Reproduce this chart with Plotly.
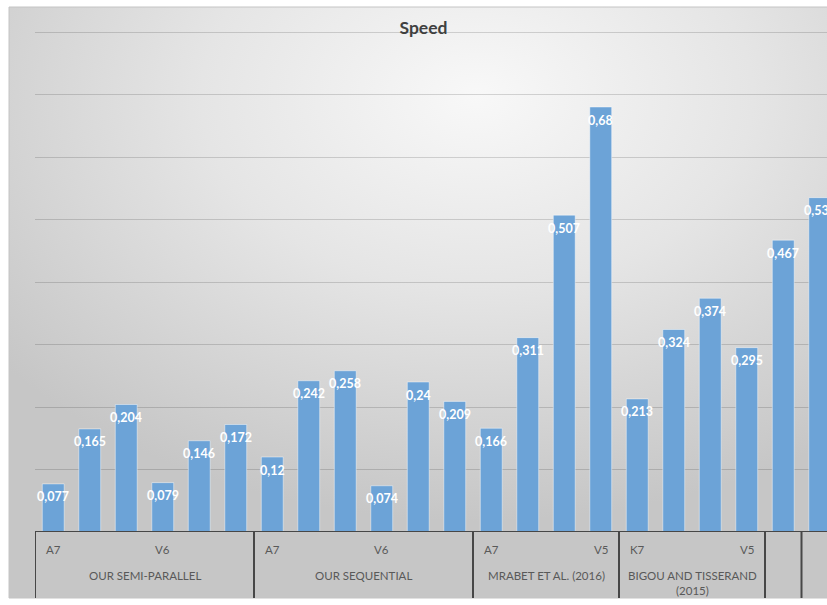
import base64
import plotly.graph_objects as go

# ---- data -------------------------------------------------------------
group_names = [
    "OUR SEMI-PARALLEL",
    "OUR SEQUENTIAL",
    "MRABET ET AL. (2016)",
    "BIGOU AND TISSERAND<br>(2015)",
    "",
    "",
]
group_ticks = [
    ["A7", "", "", "V6", "", ""],
    ["A7", "", "", "V6", "", ""],
    ["A7", "", "", "V5"],
    ["K7", "", "", "V5"],
    [""],
    [""],
]
group_values = [
    [0.077, 0.165, 0.204, 0.079, 0.146, 0.172],
    [0.12, 0.242, 0.258, 0.074, 0.24, 0.209],
    [0.166, 0.311, 0.507, 0.68],
    [0.213, 0.324, 0.374, 0.295],
    [0.467],
    [0.535],
]

# ---- geometry ---------------------------------------------------------
W, H = 827, 605
L, T, B = 35, 27, 73            # plot-area margins (px)
PW, PH = W - L, H - T - B       # plot-area size (px)
SLOT = 36.5                     # px per category
Y_MAX = 0.808                   # headroom so the 0.8 gridline is drawn

def px_x(px):
    return (px - L) / PW

def px_y(py):
    return (H - B - py) / PH

values, ticks = [], []
for vals, tks in zip(group_values, group_ticks):
    values += vals
    ticks += tks
xs = list(range(len(values)))
labels = [f"{v:g}".replace(".", ",") for v in values]

BAR = "#6CA3D7"
TXT = "#595959"
LINE = "#474747"
FONT = "Lato, 'Open Sans', sans-serif"

fig = go.Figure(
    go.Bar(
        x=xs,
        y=values,
        width=0.6,
        marker=dict(color=BAR, line=dict(color="rgba(255,255,255,0.45)", width=1)),
        hoverinfo="skip",
    )
)

# value labels just under each bar top
for x, v, lab in zip(xs, values, labels):
    fig.add_annotation(
        x=x, y=v, text=f"<b>{lab}</b>", showarrow=False,
        yanchor="middle", yshift=-13,
        font=dict(family=FONT, size=12.5, color="white"),
    )

# category box: axis line, dividers, tick and group labels
shapes = [
    dict(type="line", xref="paper", yref="y", x0=0, x1=1.05, y0=0, y1=0,
         line=dict(color=LINE, width=2)),
]
start = -0.5
div_bottom = px_y(598)
shapes.append(dict(type="line", xref="x", yref="paper", x0=start, x1=start,
                   y0=0, y1=div_bottom, line=dict(color=LINE, width=2)))
for name, vals, tks in zip(group_names, group_values, group_ticks):
    end = start + len(vals)
    shapes.append(dict(type="line", xref="x", yref="paper", x0=end, x1=end,
                       y0=0, y1=div_bottom, line=dict(color=LINE, width=2)))
    for k, t in enumerate(tks):
        if t:
            fig.add_annotation(
                x=start + 0.5 + k, y=px_y(549), xref="x", yref="paper",
                text=t, showarrow=False, yanchor="middle",
                font=dict(family=FONT, size=11.5, color=TXT),
            )
    if name:
        fig.add_annotation(
            x=(start + end) / 2, y=px_y(567), xref="x", yref="paper",
            text=name, showarrow=False, yanchor="top",
            font=dict(family=FONT, size=11.5, color=TXT),
        )
    start = end

# chart-area border
shapes.append(dict(type="rect", xref="paper", yref="paper",
                   x0=px_x(9), x1=px_x(860), y0=px_y(598), y1=px_y(7),
                   line=dict(color="#c4c4c4", width=1), layer="below"))

# radial gradient background of the chart area
svg = (
    '<svg xmlns="http://www.w3.org/2000/svg" width="851" height="591" '
    'preserveAspectRatio="none">'
    '<defs><radialGradient id="g" cx="0.55" cy="0.15" r="0.72">'
    '<stop offset="0" stop-color="#f8f8f8"/>'
    '<stop offset="0.45" stop-color="#e5e5e5"/>'
    '<stop offset="1" stop-color="#c6c6c6"/>'
    '</radialGradient></defs>'
    '<rect width="851" height="591" fill="url(#g)"/></svg>'
)
bg_src = "data:image/svg+xml;base64," + base64.b64encode(svg.encode()).decode()

fig.update_layout(
    width=W, height=H,
    margin=dict(l=L, r=0, t=T, b=B),
    paper_bgcolor="white",
    plot_bgcolor="rgba(0,0,0,0)",
    showlegend=False,
    shapes=shapes,
    images=[dict(source=bg_src, xref="paper", yref="paper",
                 x=px_x(9), y=px_y(7), sizex=(860 - 9) / PW, sizey=(598 - 7) / PH,
                 xanchor="left", yanchor="top", sizing="stretch", layer="below")],
    title=dict(text="<b>Speed</b>", x=423.5 / W, y=1 - 28 / H, xref="container",
               yref="container", xanchor="center", yanchor="middle",
               font=dict(family=FONT, size=17.5, color="#404040")),
    xaxis=dict(range=[-0.5, -0.5 + PW / SLOT], showticklabels=False,
               showgrid=False, zeroline=False, showline=False, ticks=""),
    yaxis=dict(range=[0, Y_MAX], dtick=0.1, showticklabels=False,
               gridcolor="rgba(0,0,0,0.15)", gridwidth=1, zeroline=False,
               showline=False, ticks=""),
)

fig.write_html("out.html")
